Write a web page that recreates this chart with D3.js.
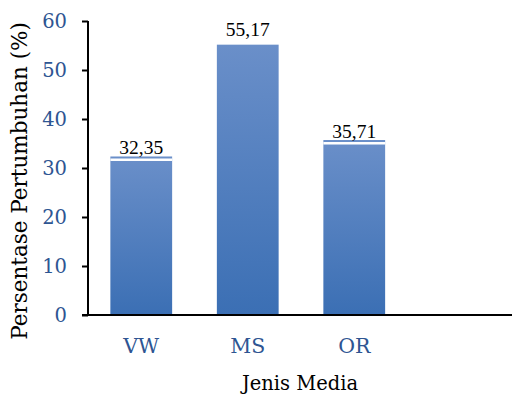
<!DOCTYPE html>
<html>
<head>
<meta charset="utf-8">
<script src="https://cdn.jsdelivr.net/npm/d3@7"></script>
<style>
html,body{margin:0;padding:0;background:#fff;}
svg{display:block;}
</style>
</head>
<body>
<svg id="chart" width="512" height="394"></svg>
<script>
const categories = ["VW", "MS", "OR"];
const values = [32.35, 55.17, 35.71];
const valueLabels = ["32,35", "55,17", "35,71"];
const yTicks = [0, 10, 20, 30, 40, 50, 60];
const xTitle = "Jenis Media";
const yTitle = "Persentase Pertumbuhan (%)";

const svg = d3.select("#chart");
const axisX = 88, axisRight = 512, y0 = 315, yTop = 21;
const step = 106.5;

const x = d3.scaleBand().domain(categories)
  .range([axisX, axisX + step * categories.length])
  .paddingInner(0.42).paddingOuter(0.21);
const y = d3.scaleLinear().domain([0, 60]).range([y0, yTop]);

const defs = svg.append("defs");
const grad = defs.append("linearGradient").attr("id", "barGrad")
  .attr("x1", 0).attr("y1", 0).attr("x2", 0).attr("y2", 1);
grad.append("stop").attr("offset", "0%").attr("stop-color", "#6A8FC9");
grad.append("stop").attr("offset", "100%").attr("stop-color", "#3B6FB4");

const blue = "#2E5592";
const serif = "'DejaVu Serif', serif";

// bars
svg.append("g").selectAll("rect").data(categories).join("rect")
  .attr("x", d => x(d))
  .attr("y", (d, i) => y(values[i]))
  .attr("width", x.bandwidth())
  .attr("height", (d, i) => y(0) - y(values[i]))
  .attr("fill", "url(#barGrad)");

// label box overlaps the top of the lower bars (white strip)
const overlapping = categories.filter((d, i) => y(values[i]) > 60);
svg.append("g").selectAll("rect").data(overlapping).join("rect")
  .attr("x", d => x(d))
  .attr("y", d => y(values[categories.indexOf(d)]) + 2)
  .attr("width", x.bandwidth())
  .attr("height", 2.5)
  .attr("fill", "#fff");

// value labels
svg.append("g").selectAll("text").data(categories).join("text")
  .attr("x", d => x(d) + x.bandwidth() / 2)
  .attr("y", (d, i) => y(values[i]) - (y(values[i]) > 60 ? 2 : 8.5))
  .attr("text-anchor", "middle")
  .attr("font-family", "'Liberation Serif', 'Times New Roman', serif")
  .attr("font-size", 19.5)
  .attr("fill", "#000")
  .text((d, i) => valueLabels[i]);

// y axis
const yAxis = d3.axisLeft(y).tickValues(yTicks).tickSize(6).tickPadding(15).tickFormat(d3.format("d"));
const gy = svg.append("g").attr("transform", `translate(${axisX},0)`).call(yAxis);
gy.select(".domain").remove();
gy.selectAll(".tick line").attr("stroke", "#000").attr("stroke-width", 2);
gy.selectAll(".tick text").attr("font-family", serif).attr("font-size", 19.5).attr("fill", blue);
svg.append("line").attr("x1", axisX).attr("x2", axisX).attr("y1", yTop).attr("y2", y0 + 1)
  .attr("stroke", "#000").attr("stroke-width", 2);

// x axis
const xAxis = d3.axisBottom(x).tickSize(0).tickPadding(23);
const gx = svg.append("g").attr("transform", `translate(0,${y0})`).call(xAxis);
gx.select(".domain").remove();
gx.selectAll(".tick text").attr("font-family", serif).attr("font-size", 20.5).attr("fill", blue);
svg.append("line").attr("x1", axisX - 6).attr("x2", axisRight).attr("y1", y0).attr("y2", y0)
  .attr("stroke", "#000").attr("stroke-width", 2);

// titles
svg.append("text").attr("x", 300).attr("y", 390)
  .attr("text-anchor", "middle").attr("font-family", serif).attr("font-size", 19.5)
  .attr("fill", "#000").text(xTitle);
svg.append("text").attr("transform", "translate(27,181) rotate(-90)")
  .attr("text-anchor", "middle").attr("font-family", serif).attr("font-size", 21.5)
  .attr("fill", "#000").text(yTitle);
</script>
</body>
</html>
